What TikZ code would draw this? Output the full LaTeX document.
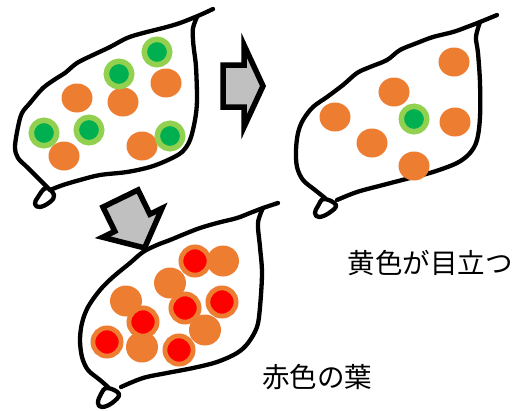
\documentclass[tikz,border=0pt]{standalone}
\usepackage{xcolor}
\usepackage{fontspec}
\newfontfamily\jpfont{Noto Sans CJK JP}
\usetikzlibrary{shapes.geometric}
\definecolor{ink}{HTML}{000000}
\definecolor{spotOrange}{HTML}{ED7D31}
\definecolor{spotGreen}{HTML}{00B050}
\definecolor{ringGreen}{HTML}{92D050}
\definecolor{spotRed}{HTML}{FF0000}
\definecolor{arrowGray}{HTML}{C0C0C0}

\begin{document}
\begin{tikzpicture}[
    x=1pt, y=-1pt,
    leafline/.style={
        draw=ink,
        line width=4.3pt,
        line cap=round,
        line join=round
    },
    orangeSpot/.style={
        ellipse,
        fill=spotOrange,
        minimum width=31pt,
        minimum height=29pt,
        inner sep=0pt
    },
    bigOrangeSpot/.style={
        orangeSpot,
        minimum width=32pt,
        minimum height=31pt
    },
    greenSpot/.style={
        circle,
        fill=spotGreen,
        draw=ringGreen,
        line width=5.5pt,
        minimum size=25.5pt,
        inner sep=0pt
    },
    redSpot/.style={
        circle,
        fill=spotRed,
        draw=spotOrange,
        line width=4.8pt,
        minimum size=28.2pt,
        inner sep=0pt
    },
    blockArrow/.style={draw=ink, fill=arrowGray, line width=5.5pt, line join=miter},
    label/.style={font=\jpfont\fontsize{27.5}{32}\selectfont, text=ink, inner sep=0pt}
]

\useasboundingbox (0,0) rectangle (521,410);

% Top-left leaf: green spots among orange ones.
\draw[leafline] plot[smooth, tension=0.55] coordinates {(213,9) (200,15) (180,23) (163,28) (143,33) (127,38) (110,47) (93,55) (77,63) (65,73) (57,78) (43,88) (30,103) (22,113) (18,127) (15,147) (18,158) (27,167) (37,177) (48,188)};
\draw[leafline] plot[smooth, tension=0.55] coordinates {(197,17) (193,28) (193,40) (194,50) (196,67) (197,100) (195,120) (190,140) (182,152) (168,160) (150,167) (127,172) (100,175) (80,180) (63,185) (50,190)};
\draw[leafline] plot[smooth cycle, tension=0.7] coordinates {(46,188) (38,197) (35,204) (40,207) (50,202) (54,195)};

\node[orangeSpot] (aOrange1) at (77,98) {};
\node[orangeSpot] (aOrange2) at (123,102) {};
\node[orangeSpot] (aOrange3) at (166,83) {};
\node[orangeSpot] (aOrange4) at (64,156) {};
\node[orangeSpot] (aOrange5) at (142,146) {};

\node[greenSpot] (aGreen1) at (157,52) {};
\node[greenSpot] (aGreen2) at (119,74) {};
\node[greenSpot] (aGreen3) at (44,133) {};
\node[greenSpot] (aGreen4) at (89,130) {};
\node[greenSpot] (aGreen5) at (170,136) {};

% Top-right leaf: a single green spot left.
\draw[leafline] plot[smooth, tension=0.55] coordinates {(497,15) (480,22) (467,27) (453,32) (433,37) (417,43) (400,50) (387,60) (370,67) (357,73) (343,85) (327,97) (313,107) (303,120) (298,133) (296,150) (297,167) (303,180) (315,190) (325,198)};
\draw[leafline] plot[smooth, tension=0.55] coordinates {(480,22) (476,37) (478,53) (480,83) (480,117) (477,140) (470,153) (457,163) (433,172) (410,178) (383,185) (357,192) (337,200)};
\draw[leafline] plot[smooth cycle, tension=0.7] coordinates {(324,199) (318,206) (315,213) (319,217) (329,213) (336,205)};

\node[orangeSpot] (bOrange1) at (454,62) {};
\node[orangeSpot] (bOrange2) at (394,92) {};
\node[orangeSpot] (bOrange3) at (335,117) {};
\node[orangeSpot] (bOrange4) at (372,143) {};
\node[orangeSpot] (bOrange5) at (455,122) {};
\node[orangeSpot] (bOrange6) at (414,166) {};

\node[greenSpot] (bGreen1) at (414,119) {};

% Bottom leaf: red spots.
\draw[leafline] plot[smooth, tension=0.55] coordinates {(278,203) (263,208) (250,213) (237,218) (217,223) (200,228) (187,233) (170,240) (157,245) (143,252) (130,263) (113,277) (100,290) (88,307) (82,323) (80,340) (82,357) (88,370) (100,380) (108,387)};
\draw[leafline] plot[smooth, tension=0.55] coordinates {(263,208) (258,223) (260,247) (262,273) (260,307) (257,327) (248,343) (237,353) (217,362) (193,368) (167,373) (143,378) (121,387)};
\draw[leafline] plot[smooth cycle, tension=0.7] coordinates {(107,388) (101,394) (98,403) (102,407) (112,403) (119,394)};

\node[bigOrangeSpot] (cOrange1) at (223,261) {};
\node[bigOrangeSpot] (cOrange2) at (170,283) {};
\node[bigOrangeSpot] (cOrange3) at (126,301) {};
\node[bigOrangeSpot] (cOrange4) at (205,330) {};
\node[bigOrangeSpot] (cOrange5) at (142,347) {};

\node[redSpot] (cRed1) at (195,261) {};
\node[redSpot] (cRed2) at (185,308) {};
\node[redSpot] (cRed3) at (222,302) {};
\node[redSpot] (cRed4) at (143,322) {};
\node[redSpot] (cRed5) at (107,342) {};
\node[redSpot] (cRed6) at (179,350) {};

% Block arrows between the leaves.
\draw[blockArrow] (223,65) -- (244,65) -- (244,45) -- (263,86) -- (244,127) -- (244,107) -- (223,107) -- cycle;
\draw[blockArrow, shift={(120.5,198.5)}, rotate=-64]
    (0,-19.5) -- (27,-19.5) -- (27,-33) -- (55,0) -- (27,33) -- (27,19.5) -- (0,19.5) -- cycle;

% Captions.
\node[label] (yellowText) at (430,263) {黄色が目立つ};
\node[label] (redText) at (317,377) {赤色の葉};

\end{tikzpicture}
\end{document}
